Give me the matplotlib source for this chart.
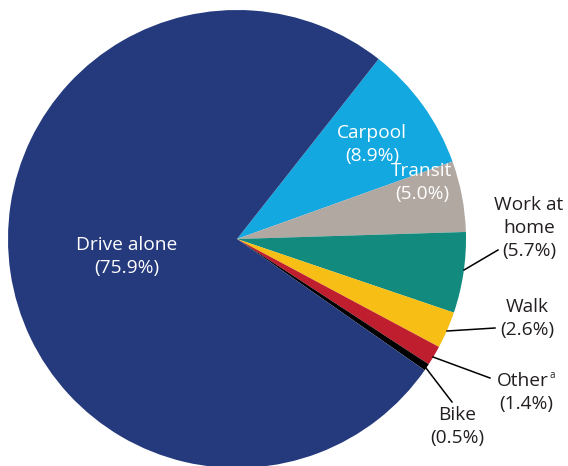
import matplotlib.pyplot as plt

plt.rcParams['font.family'] = ['Open Sans', 'DejaVu Sans']

modes = ['Carpool', 'Transit', 'Work at\nhome', 'Walk', 'Other', 'Bike', 'Drive alone']
shares = [8.9, 5.0, 5.7, 2.6, 1.4, 0.5, 75.9]
colors = ['#14a8e0', '#b2a8a2', '#128a7e', '#f7be16', '#be1e2d', '#000000', '#253a7d']

W, H = 568, 466
fig = plt.figure(figsize=(W / 100, H / 100), dpi=100)
ax = fig.add_axes([0, 0, 1, 1])

cx, cy, r = 237, H - 239, 229
ax.pie(shares, colors=colors, startangle=51.8, counterclock=False,
       center=(cx, cy), radius=r, wedgeprops=dict(linewidth=0))
ax.set_xlim(0, W)
ax.set_ylim(0, H)
ax.set_aspect('equal')
ax.axis('off')

FS = 13.8
LINE = 23  # px between label lines

# label anchor (pixel coords from top-left), text colour
label_pos = {
    'Drive alone': (127, 257, 'white'),
    'Carpool': (372, 144, 'white'),
    'Transit': (422, 182, 'white'),
    'Work at\nhome': (529, 228, '#231f20'),
    'Walk': (527, 318, '#231f20'),
    'Other': (526, 393, '#231f20'),
    'Bike': (457, 426, '#231f20'),
}
for m, s in zip(modes, shares):
    x, y, c = label_pos[m]
    lines = m.split('\n') + [f'({s:.1f}%)']
    y0 = y - (len(lines) - 1) * LINE / 2
    for i, t in enumerate(lines):
        tx = x - 3 if m == 'Other' and i == 0 else x
        ax.text(tx, H - (y0 + i * LINE), t, ha='center', va='center',
                color=c, fontsize=FS)

# footnote marker after "Other"
ax.text(549, H - 376, 'a', ha='left', va='center', fontsize=7, color='#231f20')

# leader lines
leaders = [
    ((464, 270), (498, 250)),
    ((447, 331), (495, 328)),
    ((433, 357), (490, 378)),
    ((426, 368), (452, 402)),
]
for (x0, y0), (x1, y1) in leaders:
    ax.plot([x0, x1], [H - y0, H - y1], color='black', lw=1.1)

fig.savefig('out.png', dpi=100)
